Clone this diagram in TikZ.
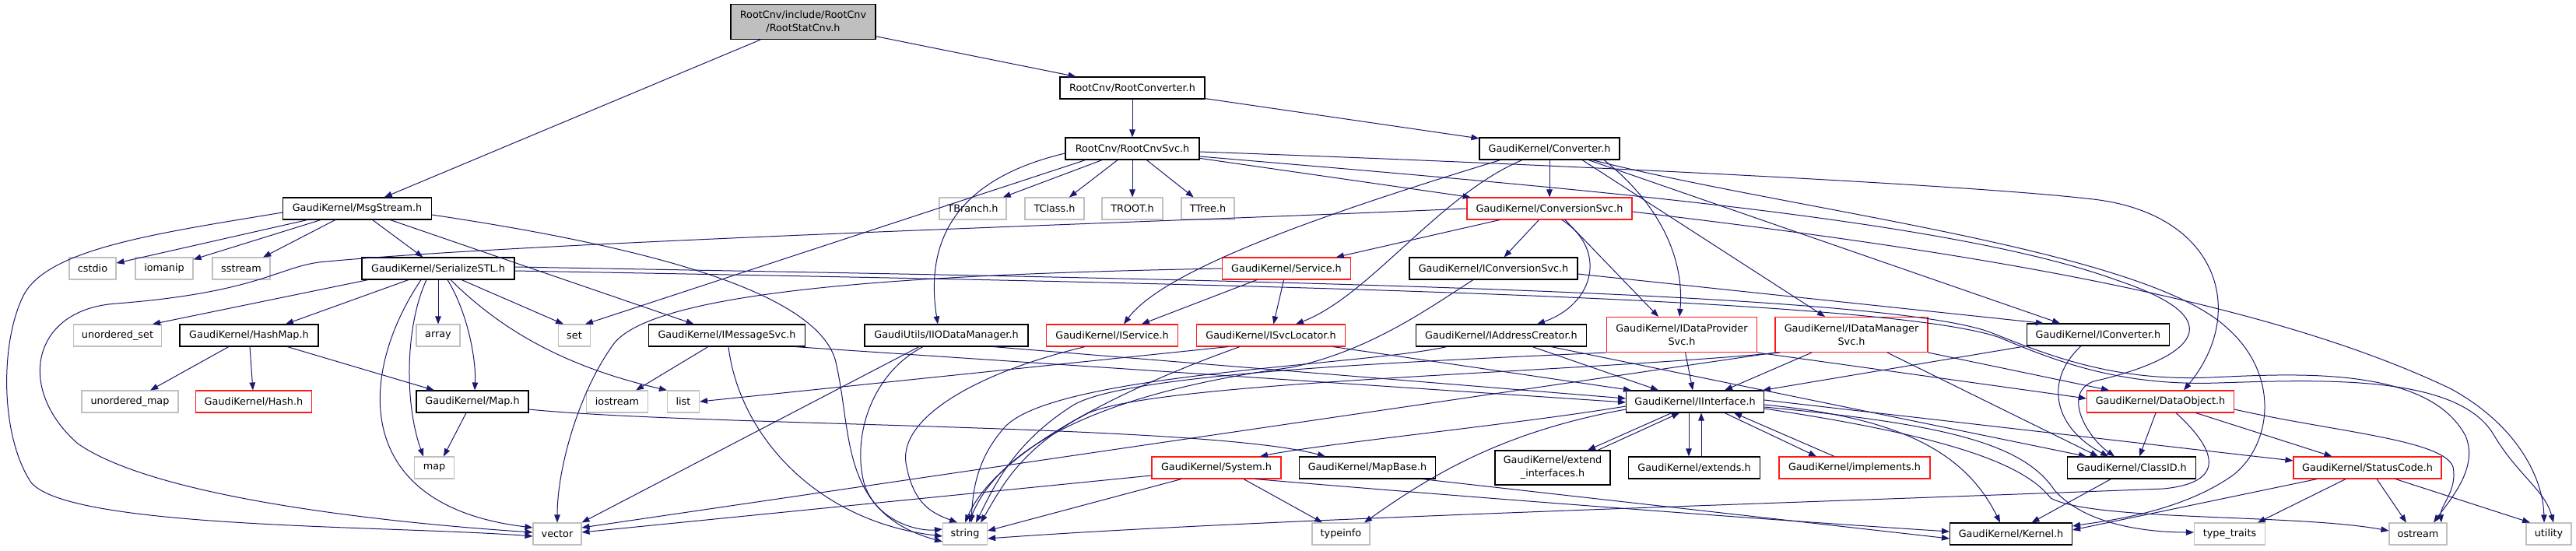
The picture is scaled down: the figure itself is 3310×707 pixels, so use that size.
\documentclass[tikz,border=0pt]{standalone}
\usepackage{fontspec}
\setmainfont{DejaVu Sans}
\usetikzlibrary{arrows.meta}
\definecolor{dxblue}{HTML}{191970}
\definecolor{dxred}{HTML}{FF1A1A}
\definecolor{dxgray}{HTML}{BFBFBF}
\newcommand{\dxfont}{\fontsize{12.8}{17}\selectfont}
\begin{document}
\begin{tikzpicture}[x=1pt,y=-1pt,
  nb/.style={draw=black, line width=1.1pt, rectangle, inner sep=0pt, minimum height=28pt, align=center, font=\dxfont, fill=white},
  nr/.style={nb, draw=dxred},
  nl/.style={nb, draw=dxgray},
  dep/.style={draw=dxblue, line width=1pt, -{Triangle[length=10pt,width=7.5pt]}}]
\fill[white] (0,0) rectangle (3310,707);
\useasboundingbox (0,0) rectangle (3310,707);
% nodes
\node[nb, fill=dxgray, minimum width=186pt, minimum height=45pt] (root) at (1032,28) {RootCnv/include/RootCnv\\/RootStatCnv.h};
\node[nb, minimum width=186pt] (rconv) at (1455,113) {RootCnv/RootConverter.h};
\node[nb, minimum width=172pt] (rsvc) at (1455,191) {RootCnv/RootCnvSvc.h};
\node[nb, minimum width=180pt] (conv) at (1991,191) {GaudiKernel/Converter.h};
\node[nb, minimum width=191pt] (msg) at (459,268) {GaudiKernel/MsgStream.h};
\node[nl, minimum width=86pt] (tbranch) at (1250,268) {TBranch.h};
\node[nl, minimum width=76pt] (tclass) at (1355,268) {TClass.h};
\node[nl, minimum width=78pt] (troot) at (1455,268) {TROOT.h};
\node[nl, minimum width=68pt] (ttree) at (1552,268) {TTree.h};
\node[nr, minimum width=212pt] (csvc) at (1991,268) {GaudiKernel/ConversionSvc.h};
\node[nl, minimum width=60pt] (cstdio) at (119,345) {cstdio};
\node[nl, minimum width=74pt] (iomanip) at (211,345) {iomanip};
\node[nl, minimum width=74pt] (sstream) at (310,345) {sstream};
\node[nb, minimum width=196pt] (sstl) at (563,345) {GaudiKernel/SerializeSTL.h};
\node[nr, minimum width=165pt] (service) at (1653,345) {GaudiKernel/Service.h};
\node[nb, minimum width=216pt] (icsvc) at (1919,345) {GaudiKernel/IConversionSvc.h};
\node[nl, minimum width=113pt] (uset) at (151,431) {unordered\_set};
\node[nb, minimum width=178pt] (hashmap) at (320,431) {GaudiKernel/HashMap.h};
\node[nl, minimum width=56pt] (array) at (563,431) {array};
\node[nl, minimum width=41pt] (set) at (738,431) {set};
\node[nb, minimum width=201pt] (imsg) at (934,431) {GaudiKernel/IMessageSvc.h};
\node[nb, minimum width=210pt] (iio) at (1216,431) {GaudiUtils/IIODataManager.h};
\node[nr, minimum width=169pt] (iservice) at (1429,431) {GaudiKernel/IService.h};
\node[nr, minimum width=191pt] (isvcloc) at (1633,431) {GaudiKernel/ISvcLocator.h};
\node[nb, minimum width=219pt] (iaddr) at (1929,431) {GaudiKernel/IAddressCreator.h};
\node[nr, minimum width=193pt, minimum height=45pt] (idp) at (2161,430) {GaudiKernel/IDataProvider\\Svc.h};
\node[nr, minimum width=196pt, minimum height=45pt] (idm) at (2379,430) {GaudiKernel/IDataManager\\Svc.h};
\node[nb, minimum width=183pt] (iconv) at (2696,430) {GaudiKernel/IConverter.h};
\node[nl, minimum width=124pt] (umap) at (167,516) {unordered\_map};
\node[nr, minimum width=149pt] (hash) at (326,516) {GaudiKernel/Hash.h};
\node[nb, minimum width=144pt] (maph) at (607,516) {GaudiKernel/Map.h};
\node[nl, minimum width=79pt] (iostream) at (793,516) {iostream};
\node[nl, minimum width=41pt] (list) at (878,516) {list};
\node[nb, minimum width=177pt] (iint) at (2178,516) {GaudiKernel/IInterface.h};
\node[nr, minimum width=189pt] (dobj) at (2776,516) {GaudiKernel/DataObject.h};
\node[nl, minimum width=51pt] (map) at (558,601) {map};
\node[nr, minimum width=166pt] (system) at (1563,601) {GaudiKernel/System.h};
\node[nb, minimum width=175pt] (mapbase) at (1757,601) {GaudiKernel/MapBase.h};
\node[nb, minimum width=148pt, minimum height=44pt] (extif) at (1995,601) {GaudiKernel/extend\\\_interfaces.h};
\node[nb, minimum width=169pt] (extends) at (2177,601) {GaudiKernel/extends.h};
\node[nr, minimum width=194pt] (impl) at (2383,601) {GaudiKernel/implements.h};
\node[nb, minimum width=165pt] (classid) at (2739,601) {GaudiKernel/ClassID.h};
\node[nr, minimum width=190pt] (status) at (3042,601) {GaudiKernel/StatusCode.h};
\node[nl, minimum width=62pt] (vector) at (716,686) {vector};
\node[nl, minimum width=57pt] (string) at (1240,686) {string};
\node[nl, minimum width=74pt] (typeinfo) at (1723,686) {typeinfo};
\node[nb, minimum width=157pt] (kernel) at (2584,686) {GaudiKernel/Kernel.h};
\node[nl, minimum width=91pt] (typetr) at (2865,686) {type\_traits};
\node[nl, minimum width=74pt] (ostream) at (3107,686) {ostream};
\node[nl, minimum width=58pt] (utility) at (3275,686) {utility};
% root
\draw[dep] (root) -- (msg);
\draw[dep] (root) -- (rconv);
\draw[dep] (rconv) -- (rsvc);
\draw[dep] (rconv) -- (conv);
% RootCnvSvc
\draw[dep] (rsvc) -- (tbranch);
\draw[dep] (rsvc) -- (tclass);
\draw[dep] (rsvc) -- (troot);
\draw[dep] (rsvc) -- (ttree);
\draw[dep] (rsvc) -- (csvc);
\draw[dep] ([yshift=-6pt]rsvc.west) .. controls (1250,225) and (1185,290) .. ([xshift=-11pt]iio.north);
\draw[dep] ([xshift=-60pt]rsvc.south) -- ([xshift=14pt]set.north);
\draw[dep] ([yshift=-4pt]rsvc.east) .. controls (2100,215) and (2550,240) .. (2680,255) .. controls (2850,270) and (2890,400) .. ([xshift=30pt]dobj.north);
\draw[dep] ([yshift=-10pt]rsvc.east) .. controls (2000,240) and (2500,280) .. (2720,360) .. controls (2900,420) and (2780,470) .. (2690,490) .. controls (2650,505) and (2680,560) .. ([xshift=-22pt]classid.north);
% Converter
\draw[dep] (conv) -- (csvc);
\draw[dep] ([xshift=-63pt]conv.south) .. controls (1750,260) and (1500,340) .. ([xshift=15pt]iservice.north);
\draw[dep] ([xshift=-35pt]conv.south) .. controls (1850,250) and (1760,380) .. ([xshift=32pt]isvcloc.north);
\draw[dep] ([xshift=70pt]conv.south) .. controls (2130,260) and (2165,330) .. ([xshift=-3pt]idp.north);
\draw[dep] ([xshift=42pt]conv.south) -- ([xshift=-34pt]idm.north);
\draw[dep] ([xshift=50pt]conv.south) -- ([xshift=-49pt]iconv.north);
\draw[dep] ([xshift=55pt]conv.south) .. controls (2300,270) and (2750,320) .. (2860,420) .. controls (2930,480) and (2920,570) .. (2870,610) .. controls (2800,660) and (2700,670) .. ([yshift=10pt]kernel.east);
% ConversionSvc
\draw[dep] (csvc) -- (service);
\draw[dep] (csvc) -- (icsvc);
\draw[dep] ([xshift=16pt]csvc.south) .. controls (2065,320) and (2050,390) .. ([xshift=46pt]iaddr.north);
\draw[dep] ([xshift=20pt]csvc.south) -- ([xshift=-30pt]idp.north);
\draw[dep] (csvc.west) .. controls (1500,285) and (700,310) .. (420,336) .. controls (360,340) and (340,375) .. (150,390) .. controls (40,397) and (20,500) .. (100,570) .. controls (200,640) and (500,672) .. ([yshift=2pt]vector.west);
\draw[dep] ([yshift=-4pt]csvc.east) .. controls (2500,320) and (2900,380) .. (3150,500) .. controls (3240,550) and (3268,620) .. ([xshift=-6pt]utility.north);
% Service
\draw[dep] (service) -- (iservice);
\draw[dep] (service) -- (isvcloc);
\draw[dep] (service.west) .. controls (1200,352) and (850,370) .. (790,440) .. controls (745,500) and (716,600) .. (vector.north);
% IConversionSvc
\draw[dep] ([yshift=-7pt]icsvc.east) -- ([xshift=-70pt]iconv.north);
\draw[dep] ([xshift=-26pt]icsvc.south) .. controls (1830,400) and (1760,450) .. (1660,472) .. controls (1450,500) and (1290,560) .. ([xshift=5pt]string.north);
% IIODataManager
\draw[dep] ([xshift=60pt]iio.south) -- ([yshift=4pt]iint.west);
\draw[dep] ([xshift=-30pt]iio.south) .. controls (1120,480) and (1095,560) .. (1110,620) .. controls (1125,670) and (1180,683) .. ([yshift=6pt]string.west);
\draw[dep] ([xshift=-35pt]iio.south) -- (vector.north east);
% IService
\draw[dep] ([xshift=-35pt]iservice.south) .. controls (1250,480) and (1150,540) .. (1165,600) .. controls (1175,650) and (1200,660) .. ([xshift=-10pt]string.north);
% ISvcLocator
\draw[dep] ([xshift=-40pt]isvcloc.south) .. controls (1440,500) and (1280,580) .. (string.north);
\draw[dep] ([xshift=-55pt]isvcloc.south) -- (list.east);
\draw[dep] ([xshift=80pt]isvcloc.south) -- ([xshift=-82pt]iint.north);
% IAddressCreator
\draw[dep] ([xshift=40pt]iaddr.south) -- ([xshift=-47pt]iint.north);
\draw[dep] ([xshift=64pt]iaddr.south) -- ([xshift=-58pt]classid.north);
\draw[dep] ([xshift=-70pt]iaddr.south) .. controls (1750,470) and (1350,480) .. (1290,550) .. controls (1255,590) and (1250,630) .. ([xshift=8pt]string.north);
% IDataProviderSvc
\draw[dep] (idp) -- (iint);
\draw[dep] (idp.south west) .. controls (1800,465) and (1450,480) .. (1380,520) .. controls (1300,570) and (1275,630) .. ([xshift=14pt]string.north);
\draw[dep] (idp.south east) -- ([yshift=4pt]dobj.west);
% IDataManagerSvc
\draw[dep] ([xshift=-51pt]idm.south) -- ([xshift=38pt]iint.north);
\draw[dep] ([xshift=46pt]idm.south) -- ([xshift=-43pt]classid.north);
\draw[dep] (idm.south east) -- ([xshift=-66pt]dobj.north);
\draw[dep] (idm.south west) -- ([yshift=8pt]vector.east);
\draw[dep] ([xshift=-92pt]idm.south) .. controls (2000,480) and (1500,490) .. (1400,530) .. controls (1310,575) and (1285,630) .. ([xshift=20pt]string.north);
% IConverter
\draw[dep] (iconv.south west) -- ([xshift=87pt]iint.north);
\draw[dep] ([xshift=-22pt]iconv.south) .. controls (2625,490) and (2640,550) .. ([xshift=-30pt]classid.north);
% IMessageSvc
\draw[dep] (imsg) -- (iostream);
\draw[dep] ([xshift=2pt]imsg.south) .. controls (950,560) and (1050,670) .. ([yshift=-3pt]string.west);
\draw[dep] ([xshift=87pt]imsg.south) -- ([yshift=-1pt]iint.west);
% MsgStream
\draw[dep] (msg) -- (cstdio);
\draw[dep] (msg) -- (iomanip);
\draw[dep] (msg) -- (sstream);
\draw[dep] (msg) -- (sstl);
\draw[dep] (msg) -- (imsg);
\draw[dep] ([yshift=-5pt]msg.west) .. controls (200,300) and (60,320) .. (30,380) .. controls (0,440) and (0,560) .. (40,620) .. controls (90,680) and (500,675) .. ([yshift=-3pt]vector.west);
\draw[dep] ([yshift=-8pt]msg.east) .. controls (850,320) and (1060,380) .. (1075,470) .. controls (1095,560) and (1080,660) .. ([yshift=-10pt]string.west);
% SerializeSTL
\draw[dep] ([xshift=-90pt]sstl.south) -- ([xshift=45pt]uset.north);
\draw[dep] ([xshift=-38pt]sstl.south) -- ([xshift=47pt]hashmap.north);
\draw[dep] (sstl) -- (array);
\draw[dep] ([xshift=30pt]sstl.south) -- ([xshift=-14pt]set.north);
\draw[dep] ([xshift=12pt]sstl.south) .. controls (600,400) and (612,460) .. ([xshift=3pt]maph.north);
\draw[dep] ([xshift=16pt]sstl.south) .. controls (640,420) and (720,470) .. (list.north west);
\draw[dep] ([xshift=-15pt]sstl.south) .. controls (520,420) and (520,520) .. ([xshift=-14pt]map.north);
\draw[dep] ([xshift=-22pt]sstl.south) .. controls (460,480) and (450,650) .. ([yshift=8pt]vector.west);
\draw[dep] ([yshift=2pt]sstl.east) .. controls (1500,358) and (2420,372) .. (2560,428) .. controls (2640,460) and (2720,490) .. (2840,485) .. controls (2950,480) and (3120,470) .. (3168,560) .. controls (3185,600) and (3150,640) .. ([xshift=20pt]ostream.north);
\draw[dep] ([yshift=-3pt]sstl.east) .. controls (1500,363) and (2420,380) .. (2570,434) .. controls (2650,468) and (2730,496) .. (2850,492) .. controls (2980,488) and (3160,480) .. (3205,560) .. controls (3235,610) and (3270,630) .. ([xshift=6pt]utility.north);
% HashMap, Map, MapBase
\draw[dep] (hashmap) -- (umap);
\draw[dep] (hashmap) -- (hash);
\draw[dep] (hashmap) -- (maph);
\draw[dep] ([xshift=-8pt]maph.south) -- ([xshift=12pt]map.north);
\draw[dep] ([yshift=-10pt]maph.east) .. controls (900,548) and (1550,545) .. ([xshift=-54pt]mapbase.north);
\draw[dep] ([xshift=70pt]mapbase.south) -- ([yshift=-6pt]kernel.west);
% System
\draw[dep] ([yshift=-10pt]system.west) -- ([yshift=2pt]vector.east);
\draw[dep] ([xshift=-45pt]system.south) -- ([yshift=4pt]string.east);
\draw[dep] ([xshift=35pt]system.south) -- ([xshift=-24pt]typeinfo.north);
\draw[dep] ([xshift=50pt]system.south) .. controls (1900,640) and (2300,670) .. ([yshift=3pt]kernel.west);
% IInterface
\draw[dep] ([yshift=-6pt]iint.west) .. controls (1950,545) and (1700,570) .. ([xshift=56pt]system.north);
\draw[dep] ([yshift=-10pt]iint.west) .. controls (1930,555) and (1840,610) .. ([xshift=30pt]typeinfo.north);
\draw[dep] ([xshift=-30pt]iint.south) -- ([xshift=45pt]extif.north);
\draw[dep] ([xshift=58pt]extif.north) -- ([xshift=-20pt]iint.south);
\draw[dep] ([xshift=-8pt]iint.south) -- ([xshift=-7pt]extends.north);
\draw[dep] ([xshift=9pt]extends.north) -- ([xshift=8pt]iint.south);
\draw[dep] ([xshift=38pt]iint.south) -- ([xshift=-49pt]impl.north);
\draw[dep] ([xshift=-26pt]impl.north) -- ([xshift=50pt]iint.south);
\draw[dep] ([yshift=-4pt]iint.east) .. controls (2420,535) and (2520,570) .. ([xshift=-14pt]kernel.north);
\draw[dep] ([yshift=-7pt]iint.east) .. controls (2500,545) and (2600,570) .. (2640,630) .. controls (2680,675) and (2760,684) .. ([yshift=2pt]typetr.west);
\draw[dep] ([yshift=-9pt]iint.east) .. controls (2500,560) and (2600,595) .. (2635,640) .. controls (2690,670) and (2950,660) .. ([yshift=4pt]ostream.west);
\draw[dep] ([yshift=2pt]iint.east) -- ([yshift=9pt]status.west);
% DataObject
\draw[dep] ([xshift=-6pt]dobj.south) -- ([xshift=10pt]classid.north);
\draw[dep] (dobj) -- (status);
\draw[dep] ([yshift=-10pt]dobj.east) .. controls (3000,555) and (3140,565) .. (3152,600) .. controls (3158,630) and (3135,650) .. ([xshift=30pt]ostream.north);
\draw[dep] ([xshift=20pt]dobj.south) .. controls (2850,580) and (2860,620) .. (2780,628) .. controls (2200,650) and (1600,668) .. ([yshift=-6pt]string.east);
% ClassID, StatusCode
\draw[dep] (classid) -- (kernel);
\draw[dep] ([xshift=-65pt]status.south) -- ([yshift=5pt]kernel.east);
\draw[dep] ([xshift=-28pt]status.south) -- ([xshift=36pt]typetr.north);
\draw[dep] ([xshift=12pt]status.south) -- ([xshift=-15pt]ostream.north);
\draw[dep] ([xshift=36pt]status.south) -- ([xshift=-24pt]utility.north);
\end{tikzpicture}
\end{document}
